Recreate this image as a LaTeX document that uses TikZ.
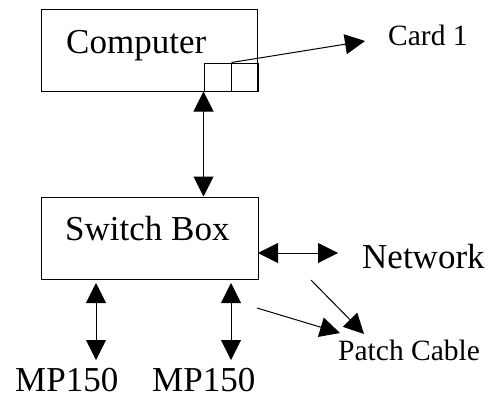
\documentclass[tikz,border=0pt]{standalone}
\usepackage{fontspec}
\setmainfont{Liberation Serif}
\usetikzlibrary{arrows.meta}
\begin{document}
\begin{tikzpicture}[x=1pt,y=-1pt,
  >={Triangle[length=20pt,width=20pt]},
  box/.style={draw,line width=1pt,inner sep=0pt,minimum width=#1},
  big/.style={inner sep=0pt,anchor=base west,font=\fontsize{35}{40}\selectfont},
  small/.style={inner sep=0pt,anchor=base west,font=\fontsize{29.5}{34}\selectfont},
  conn/.style={line width=1pt}]
\useasboundingbox (0,0) rectangle (490,399);
% Computer box
\node[box=216pt,minimum height=82pt] (comp) at (149,50) {};
\node[big] (comptext) at (66,53) {Computer};
\node[box=27pt,minimum height=28pt] (p1) at (217.5,77) {};
\node[box=27pt,minimum height=28pt] (p2) at (244.5,77) {};
% Card 1
\node[small] (card) at (388,45) {Card 1};
\coordinate (cardtip) at (365,41);
\draw[conn,->] (p1.north east) -- (cardtip);
% Switch box
\node[box=217pt,minimum height=82pt] (sw) at (149.5,238) {};
\node[big] (swtext) at (65,240) {Switch Box};
\draw[conn,<->] (p1.south west) -- (p1.south west |- sw.north);
% Network
\node[big] (net) at (362,268) {Network};
\coordinate (netl) at (258,253);
\coordinate (netr) at (338,253);
\draw[conn,<->] (netl) -- (netr);
% MP150
\node[big] (mp1) at (15,391) {MP150};
\node[big] (mp2) at (152,391) {MP150};
\coordinate (a1t) at (96,283);
\coordinate (a1b) at (96,360);
\coordinate (a2t) at (231,283);
\coordinate (a2b) at (231,360);
\draw[conn,<->] (a1t) -- (a1b);
\draw[conn,<->] (a2t) -- (a2b);
% Patch cable
\node[small] (patch) at (338,360) {Patch Cable};
\coordinate (pa1s) at (257,308);
\coordinate (pa1e) at (340,333);
\coordinate (pa2s) at (311,280);
\coordinate (pa2e) at (364,334);
\draw[conn,->] (pa1s) -- (pa1e);
\draw[conn,->] (pa2s) -- (pa2e);
\end{tikzpicture}
\end{document}
